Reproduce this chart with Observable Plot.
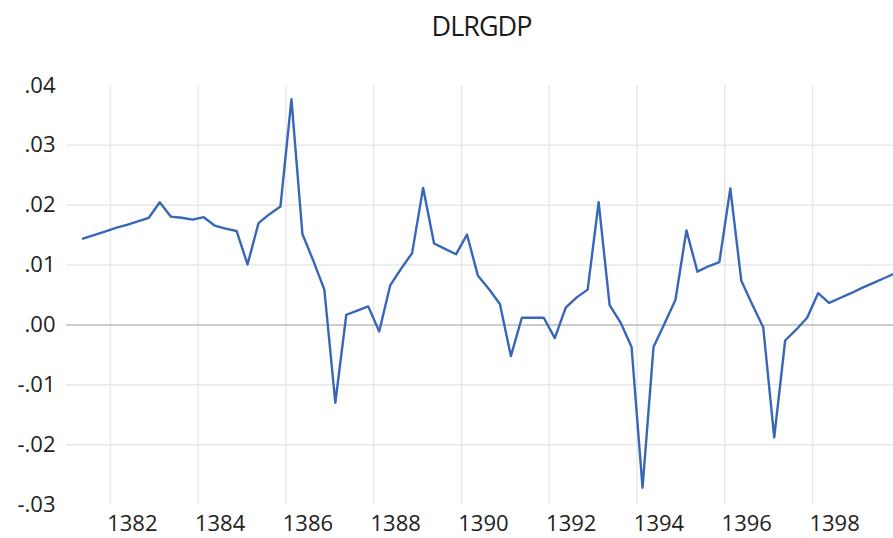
<!DOCTYPE html>
<html>
<head>
<meta charset="utf-8">
<script src="https://cdn.jsdelivr.net/npm/d3@7"></script>
<script src="https://cdn.jsdelivr.net/npm/@observablehq/plot@0.6"></script>
<style>
  html, body { margin: 0; padding: 0; background: #fff; overflow: hidden; }
  #wrap { position: relative; width: 893px; height: 538px; overflow: hidden; background: #fff; }
  #title {
    box-sizing: border-box; width: 893px; height: 50px;
    padding-top: 12px; padding-left: 70px;
    font-family: "Open Sans", sans-serif; font-size: 27px; line-height: 27px;
    letter-spacing: -1px; text-align: center; color: #1a1a1a;
  }
</style>
</head>
<body>
<div id="wrap">
  <div id="title">DLRGDP</div>
  <div id="chart"></div>
</div>
<script>
// Series: DLRGDP, quarterly, first observation 1381Q2
const seriesName = "DLRGDP";
const firstYear = 1381;
const firstQuarter = 2;
const values = [
  0.0144, 0.0150, 0.0156, 0.0162, 0.0167, 0.0173, 0.0179, 0.0205, 0.0181, 0.0179,
  0.0176, 0.0180, 0.0166, 0.0161, 0.0157, 0.0101, 0.0170, 0.0185, 0.0198, 0.0377,
  0.0152, 0.0107, 0.0059, -0.0130, 0.0017, 0.0024, 0.0031, -0.0011, 0.0066, 0.0094,
  0.0120, 0.0229, 0.0136, 0.0127, 0.0118, 0.0151, 0.0082, 0.0060, 0.0035, -0.0052,
  0.0012, 0.0012, 0.0012, -0.0022, 0.0029, 0.0046, 0.0059, 0.0205, 0.0033, 0.0004,
  -0.0037, -0.0272, -0.0037, 0.0002, 0.0042, 0.0158, 0.0089, 0.0098, 0.0105, 0.0228,
  0.0074, 0.0034, -0.0004, -0.0188, -0.0026, -0.0008, 0.0012, 0.0053, 0.0037, 0.0045,
  0.0053, 0.0062, 0.0070, 0.0078, 0.0086
];
const yearTicks = [1382, 1384, 1386, 1388, 1390, 1392, 1394, 1396, 1398];
const yTickValues = [-0.03, -0.02, -0.01, 0, 0.01, 0.02, 0.03, 0.04];
const yGridValues = [-0.02, -0.01, 0.01, 0.02, 0.03];

// observations are placed at the middle of each quarter
const rows = values.map((v, i) => {
  const q = firstQuarter - 1 + i;
  return { t: firstYear + q / 4 + 0.125, v };
});
const yFmt = d => (d < 0 ? "-" : "") + "." + String(Math.round(Math.abs(d) * 100)).padStart(2, "0");

const chart = Plot.plot({
  width: 893,
  height: 488,
  marginLeft: 66,
  marginRight: 0,
  marginTop: 35,
  marginBottom: 34,
  style: { fontFamily: "'Open Sans', sans-serif", fontSize: "22px", color: "#222", background: "#fff" },
  x: {
    domain: [1381, 1399.843],
    ticks: yearTicks.map(y => y + 0.5),
    tickFormat: d => String(Math.floor(d)),
    tickSize: 0,
    tickPadding: 11,
    label: null
  },
  y: {
    domain: [-0.03, 0.04],
    ticks: yTickValues,
    tickFormat: yFmt,
    tickSize: 0,
    tickPadding: 11,
    label: null
  },
  marks: [
    Plot.ruleY(yGridValues, { stroke: "#e8e8e8", strokeWidth: 1.5 }),
    Plot.ruleX(yearTicks, { stroke: "#e8e8e8", strokeWidth: 1.5 }),
    Plot.ruleY([0], { stroke: "#bdbdbd", strokeWidth: 1.5 }),
    Plot.line(rows, { x: "t", y: "v", stroke: "#3866b8", strokeWidth: 2.4, clip: true })
  ]
});
document.getElementById("chart").appendChild(chart);
</script>
</body>
</html>
